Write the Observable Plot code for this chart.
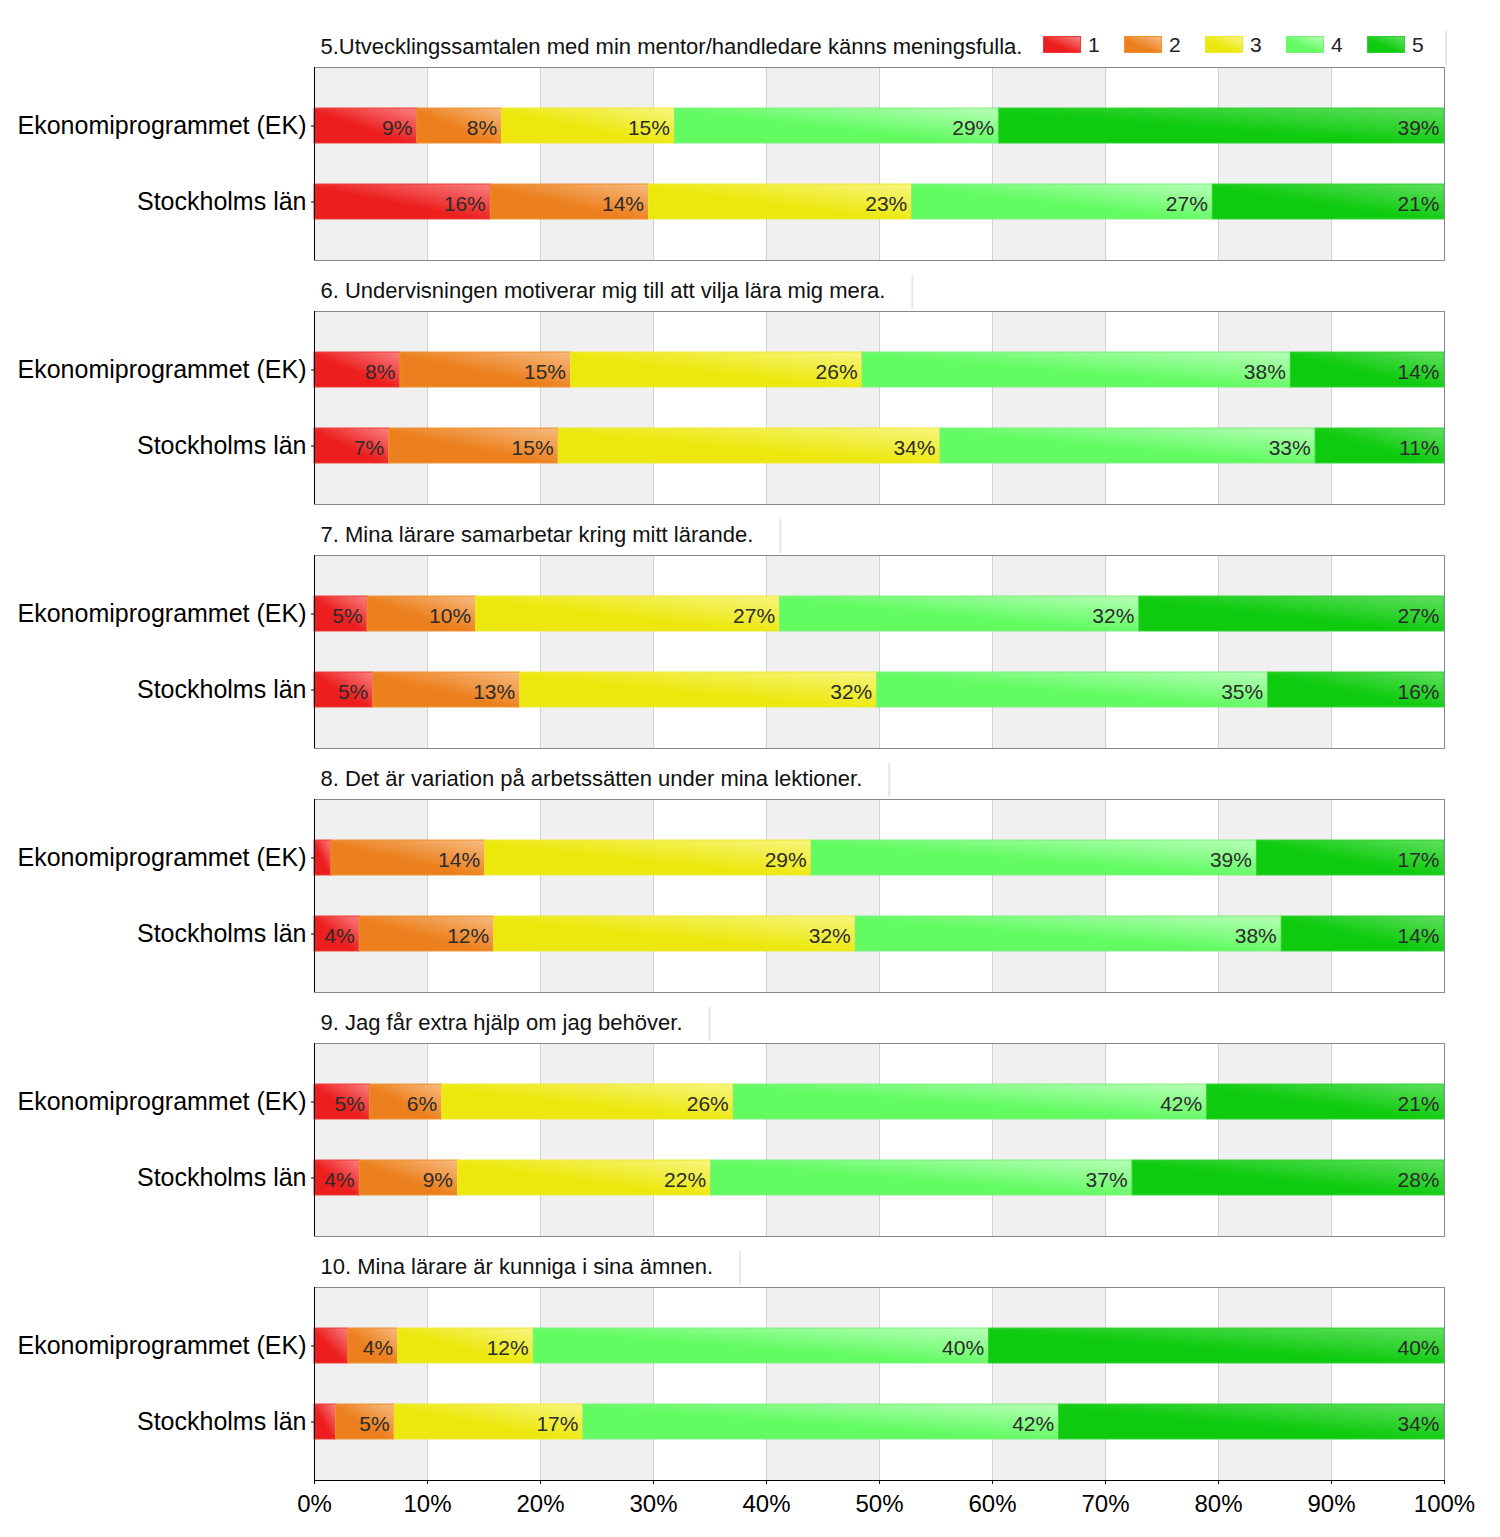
<!DOCTYPE html>
<html><head><meta charset="utf-8">
<script src="https://cdn.jsdelivr.net/npm/d3@7"></script>
<script src="https://cdn.jsdelivr.net/npm/@observablehq/plot@0.6"></script>
<style>
body{margin:0;background:#fff;font-family:"Liberation Sans",Arial,sans-serif;}
#wrap{position:relative;width:1500px;height:1537px;}
#legend{position:absolute;left:1043px;top:36px;display:flex;font-size:21px;color:#222;}
.item{display:flex;align-items:center;width:81px;height:17px;}
.sw{width:36px;height:15px;margin-right:7px;}
</style></head><body><div id="wrap"><div id="legend"></div></div>
<script>
const questions = [
  "5.Utvecklingssamtalen med min mentor/handledare känns meningsfulla.",
  "6. Undervisningen motiverar mig till att vilja lära mig mera.",
  "7. Mina lärare samarbetar kring mitt lärande.",
  "8. Det är variation på arbetssätten under mina lektioner.",
  "9. Jag får extra hjälp om jag behöver.",
  "10. Mina lärare är kunniga i sina ämnen."
];
const groups = ["Ekonomiprogrammet (EK)", "Stockholms län"];
const levels = ["1", "2", "3", "4", "5"];
// percentages per question, levels 1..5
const ekValues = [
  [9.1, 7.5, 15.3, 28.7, 39.4],
  [7.6, 15.1, 25.8, 37.9, 13.6],
  [4.7, 9.6, 26.9, 31.8, 27.0],
  [1.5, 13.6, 28.9, 39.4, 16.6],
  [4.9, 6.4, 25.8, 41.9, 21.0],
  [3.0, 4.4, 12.0, 40.3, 40.3]
];
const stockholmValues = [
  [15.6, 14.0, 23.3, 26.6, 20.5],
  [6.6, 15.0, 33.8, 33.2, 11.4],
  [5.2, 13.0, 31.6, 34.6, 15.6],
  [4.0, 11.9, 32.0, 37.7, 14.4],
  [4.0, 8.7, 22.4, 37.3, 27.6],
  [1.9, 5.2, 16.7, 42.1, 34.1]
];
const xTicks = [0, 10, 20, 30, 40, 50, 60, 70, 80, 90, 100];
const baseColors = ["#ec1e1e", "#ec801e", "#ece80e", "#62fb62", "#0fcb0f"];
const lightColors = ["#f98080", "#f7bb80", "#f7f580", "#b8ffb8", "#60e060"];
const borderColors = ["#f03a3a", "#f0902e", "#eee830", "#7af07a", "#30d030"];

const rows = [];
questions.forEach((q, qi) => {
  [ekValues, stockholmValues].forEach((vals, gi) => {
    vals[qi].forEach((v, li) => rows.push({q, group: groups[gi], level: li, value: v}));
  });
});
const shaded = xTicks.filter((t, i) => i % 2 === 0 && t < 100);
const inner = xTicks.filter(t => t > 0 && t < 100);

const chart = Plot.plot({
  width: 1500, height: 1537,
  marginTop: 67, marginBottom: 57, marginLeft: 314, marginRight: 56,
  style: {fontFamily: '"Liberation Sans", Arial, sans-serif', background: "transparent", color: "#000"},
  x: {domain: [0, 100]},
  y: {domain: groups, padding: 0.54, round: false},
  fy: {domain: questions, paddingInner: 51 / 244, paddingOuter: 0, axis: null, round: false},
  color: {type: "identity"},
  marks: [
    Plot.rectX(shaded, {x1: d => d, x2: d => d + 10, fill: "#f0f0f0"}),
    Plot.ruleX(inner, {stroke: "#d2d2d2"}),
    Plot.barX(rows, Plot.stackX({
      x: "value", y: "group", fy: "q",
      fill: d => `url(#grad${d.level})`, stroke: d => borderColors[d.level], strokeWidth: 1
    })),
    Plot.text(rows, Plot.stackX2({
      x: "value", y: "group", fy: "q",
      text: d => Math.round(d.value) >= 4 ? Math.round(d.value) + "%" : "",
      textAnchor: "end", dx: -5, dy: 2, fontSize: 21, fill: "#2b2b2b"
    })),
    Plot.frame({stroke: "#888"}),
    Plot.ruleX([0], {stroke: "#000"}),
    Plot.axisY({tickSize: 3, tickPadding: 5, fontSize: 25, label: null}),
    Plot.axisX({ticks: xTicks, tickFormat: d => d + "%", tickSize: 4, tickPadding: 10, fontSize: 24, label: null}),
    Plot.text(questions, {fy: d => d, text: d => d, frameAnchor: "top-left", textAnchor: "start", lineAnchor: "middle", dx: 6, dy: -21, fontSize: 22, fill: "#111"})
  ]
});

const svg = d3.select(chart);
const defs = svg.insert("defs", ":first-child");
levels.forEach((l, i) => {
  const g = defs.append("linearGradient").attr("id", "grad" + i)
    .attr("x1", 0).attr("y1", 1).attr("x2", 1).attr("y2", 0);
  g.append("stop").attr("offset", 0).attr("stop-color", baseColors[i]);
  g.append("stop").attr("offset", 0.45).attr("stop-color", baseColors[i]);
  g.append("stop").attr("offset", 1).attr("stop-color", lightColors[i]);
});
// black baseline under the bottom panel
const xs = chart.scale("x");
const yBottom = 1537 - 57;
svg.append("line").attr("x1", xs.range[0]).attr("x2", xs.range[1])
  .attr("y1", yBottom + 0.5).attr("y2", yBottom + 0.5).attr("stroke", "#000");

document.getElementById("wrap").prepend(chart);
chart.style.position = "absolute"; chart.style.left = "0"; chart.style.top = "0";

const legend = d3.select("#legend");
levels.forEach((l, i) => {
  const it = legend.append("div").attr("class", "item");
  it.append("div").attr("class", "sw")
    .style("background", `linear-gradient(to top right, ${baseColors[i]} 0%, ${baseColors[i]} 40%, ${lightColors[i]} 100%)`)
    .style("border", `1px solid ${borderColors[i]}`);
  it.append("span").text(l);
});

// faint shadow at the right edge of each title box
const fy = chart.scale("fy");
const shadow = svg.append("g").attr("stroke", "#e6e6e6").attr("stroke-width", 2);
const titleTexts = svg.selectAll("text").filter(function() { return questions.includes(this.textContent); }).nodes();
titleTexts.forEach((t, i) => {
  const bb = t.getBBox();
  const ctm = t.getCTM();
  const right = i === 0 ? xs.range[1] + 2 : bb.x + bb.width + (ctm ? ctm.e : 0) + 27;
  const top = 67 + fy.bandwidth * 0 + (fy.apply(questions[i]) - fy.apply(questions[0]));
  shadow.append("line").attr("x1", right).attr("x2", right).attr("y1", top - 36).attr("y2", top - 2);
});
</script></body></html>
